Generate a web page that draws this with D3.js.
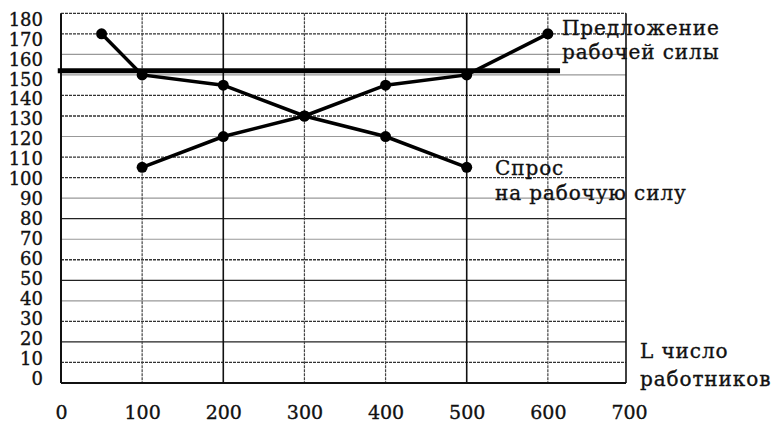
<!DOCTYPE html>
<html><head><meta charset="utf-8">
<script src="https://cdn.jsdelivr.net/npm/d3@7"></script>
<style>
html,body{margin:0;padding:0;background:#fff;}
svg text{font-family:"DejaVu Serif","Liberation Serif",serif;fill:#111;stroke:#111;stroke-width:0.35px;}
</style></head>
<body><svg id="c" width="783" height="422"></svg>
<script>
// ---- data ----
const xTicks = [0,100,200,300,400,500,600,700];
const yTicks = [0,10,20,30,40,50,60,70,80,90,100,110,120,130,140,150,160,170,180];
const supplyL = [100,200,300,400,500,600];
const supplyW = [105,120,130,145,150,170];
const demandL = [50,100,200,300,400,500];
const demandW = [170,150,145,130,120,105];
const wageL = [-4,615];
const wageW = [152,152];
const supplyLabel = ["Предложение","рабочей силы"];
const demandLabel = ["Спрос","на рабочую силу"];
const xAxisLabel = ["L число","работников"];

// ---- styling constants ----
const dashedY = new Set([180,170,140,130,110,100,60,30,10]);
const darkY = new Set([80,50,20,0]);
const solidX = new Set([200,500]);

const svg = d3.select("#c");
const x = d3.scaleLinear().domain([0,700]).range([61,629]);
const y = d3.scaleLinear().domain([0,180]).range([383,13.3]);

// horizontal grid
yTicks.forEach(v=>{
  svg.append("line").attr("x1",x(0)).attr("x2",626).attr("y1",y(v)).attr("y2",y(v))
    .attr("stroke", dashedY.has(v)?"#333":(darkY.has(v)?"#222":"#999"))
    .attr("stroke-width", dashedY.has(v)?1.3:(darkY.has(v)?1.3:1.1))
    .attr("stroke-dasharray", dashedY.has(v)?"3,1":null);
});
// vertical grid
xTicks.filter(v=>v>0 && v<700).forEach(v=>{
  svg.append("line").attr("x1",x(v)).attr("x2",x(v)).attr("y1",y(180)).attr("y2",y(0))
    .attr("stroke", solidX.has(v)?"#111":"#444")
    .attr("stroke-width", solidX.has(v)?1.6:1.2)
    .attr("stroke-dasharray", solidX.has(v)?null:"3,1");
});
// borders
svg.append("line").attr("x1",x(0)).attr("x2",x(0)).attr("y1",y(180)).attr("y2",y(0)).attr("stroke","#111").attr("stroke-width",2);
svg.append("line").attr("x1",626).attr("x2",626).attr("y1",y(180)).attr("y2",y(0)).attr("stroke","#111").attr("stroke-width",1.6);
svg.append("line").attr("x1",x(0)).attr("x2",626).attr("y1",y(0)).attr("y2",y(0)).attr("stroke","#111").attr("stroke-width",1.8);

// y axis labels
const yAxis = d3.axisLeft(y).tickValues(yTicks).tickSize(0).tickPadding(0).tickFormat(d3.format("d"));
const gy = svg.append("g").attr("transform","translate(43,0)").call(yAxis);
gy.select(".domain").remove();
gy.selectAll("text").style("font-size","18px").attr("dy","0.36em")
  .attr("transform",(d)=>`translate(0,${(d-90)*0.06})`);

// x axis labels
const xAxis = d3.axisBottom(x).tickValues(xTicks).tickSize(0).tickPadding(0).tickFormat(d3.format("d"));
const gx = svg.append("g").attr("transform","translate(0,405)").call(xAxis);
gx.select(".domain").remove();
gx.selectAll("text").style("font-size","19px").attr("dy","0.72em");

// lines
const line = d3.line().x(d=>x(d[0])).y(d=>y(d[1]));
const supply = supplyL.map((l,i)=>[l,supplyW[i]]);
const demand = demandL.map((l,i)=>[l,demandW[i]]);
const wage = wageL.map((l,i)=>[l,wageW[i]]);

svg.append("path").datum(wage).attr("d",line).attr("stroke","#000").attr("stroke-width",5).attr("fill","none");
[supply,demand].forEach(s=>{
  svg.append("path").datum(s).attr("d",line).attr("stroke","#000").attr("stroke-width",3.5).attr("fill","none");
  svg.selectAll(null).data(s).enter().append("circle")
    .attr("cx",d=>x(d[0])).attr("cy",d=>y(d[1])).attr("r",5.5).attr("fill","#000");
});

// annotations
function label(lines, xp, yp, lh){
  const t = svg.append("text").attr("x",xp).attr("y",yp).style("font-size","20px").style("letter-spacing","0.9px");
  lines.forEach((s,i)=>t.append("tspan").attr("x",xp).attr("dy", i?lh:0).text(s));
}
label(supplyLabel, 562, 35, 24);
label(demandLabel, 495, 175, 25);
label(xAxisLabel, 640, 358, 28);
</script></body></html>
